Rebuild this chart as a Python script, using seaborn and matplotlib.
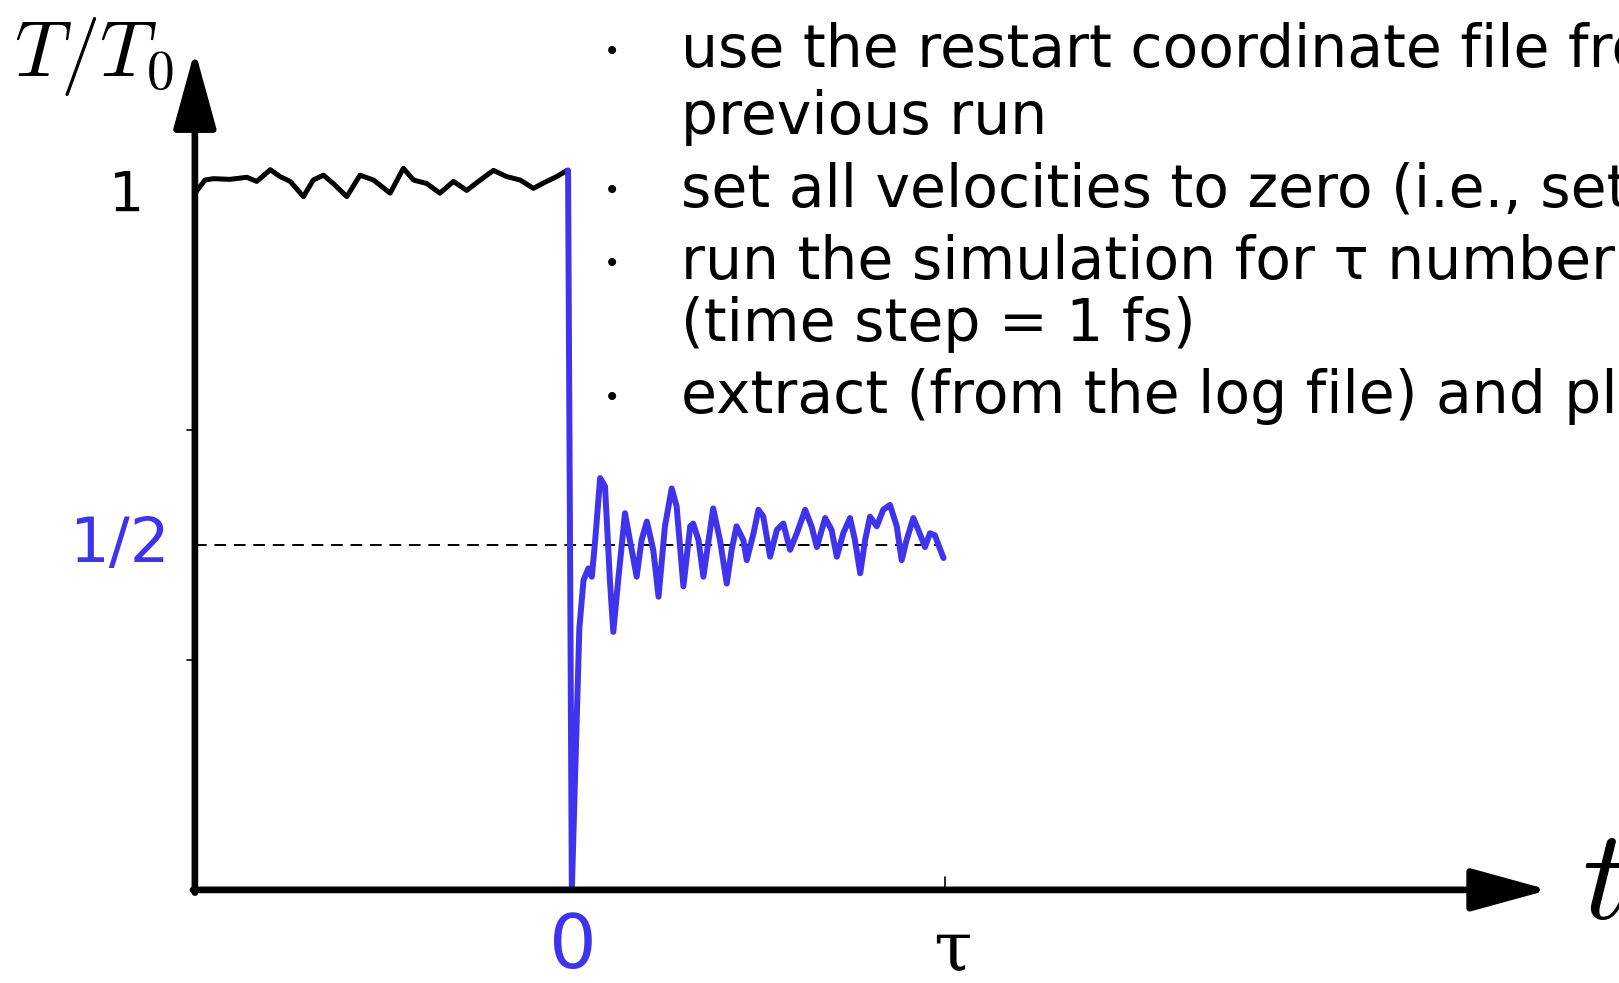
import numpy as np
import pandas as pd
import matplotlib.pyplot as plt
import seaborn as sns

# black trace: T/T0 before the velocity reset (t < 0)
black_t = [-0.99, -0.963, -0.941, -0.897, -0.852, -0.826, -0.790, -0.764, -0.737, -0.702,
           -0.676, -0.649, -0.623, -0.587, -0.552, -0.516, -0.472, -0.437, -0.410, -0.375,
           -0.340, -0.304, -0.269, -0.233, -0.198, -0.163, -0.127, -0.092, -0.057, -0.030, -0.003]
black_T = [1.010, 1.029, 1.031, 1.030, 1.033, 1.027, 1.044, 1.034, 1.027, 1.005,
           1.029, 1.036, 1.024, 1.005, 1.036, 1.029, 1.010, 1.046, 1.029, 1.024,
           1.010, 1.027, 1.014, 1.029, 1.043, 1.034, 1.029, 1.017, 1.027, 1.034, 1.043]

# blue trace: after all velocities set to zero (0 <= t <= tau)
blue_t = [0.0, 0.010, 0.030, 0.041, 0.054, 0.063, 0.072, 0.085, 0.098, 0.111, 0.120, 0.133,
          0.151, 0.164, 0.182, 0.195, 0.209, 0.226, 0.240, 0.257, 0.275, 0.288, 0.306,
          0.324, 0.332, 0.346, 0.359, 0.385, 0.403, 0.421, 0.434, 0.447, 0.465, 0.474,
          0.492, 0.505, 0.518, 0.536, 0.554, 0.571, 0.589, 0.607, 0.629, 0.646, 0.660,
          0.682, 0.699, 0.713, 0.730, 0.748, 0.761, 0.775, 0.788, 0.801, 0.819, 0.836,
          0.854, 0.872, 0.885, 0.898, 0.916, 0.929, 0.947, 0.960, 0.973, 0.996]
blue_T = [1.043, 0.0, 0.380, 0.449, 0.466, 0.454, 0.507, 0.597, 0.585, 0.449, 0.374, 0.449,
          0.546, 0.507, 0.454, 0.507, 0.534, 0.493, 0.425, 0.527, 0.582, 0.556, 0.440,
          0.527, 0.531, 0.507, 0.454, 0.553, 0.507, 0.444, 0.493, 0.527, 0.507, 0.478,
          0.517, 0.551, 0.541, 0.483, 0.522, 0.531, 0.493, 0.517, 0.551, 0.527, 0.497,
          0.539, 0.522, 0.483, 0.517, 0.539, 0.507, 0.459, 0.507, 0.541, 0.527, 0.551,
          0.558, 0.527, 0.478, 0.507, 0.539, 0.522, 0.497, 0.517, 0.514, 0.481]

y_ticks = [1/3, 2/3]
bullets = [
    ("use the restart coordinate file from the", True),
    ("previous run", False),
    ("set all velocities to zero (i.e., set T = 0)", True),
    ("run the simulation for \u03c4 number of steps", True),
    ("(time step = 1 fs)", False),
    ("extract (from the log file) and plot T", True),
]

sns.set_theme(style="white")
plt.rcParams["font.family"] = ["DejaVu Sans"]
plt.rcParams["mathtext.fontset"] = "cm"

blue = "#3f33ee"

fig = plt.figure(figsize=(16.19, 9.83), dpi=100)
ax = fig.add_axes([0, 0, 1, 1])
ax.set_xlim(-1.507, 2.788)
ax.set_ylim(-0.135, 1.290)
ax.axis("off")

df_b = pd.DataFrame({"t": black_t, "T": black_T})
df_u = pd.DataFrame({"t": blue_t, "T": blue_T})
sns.lineplot(data=df_b, x="t", y="T", sort=False, estimator=None, color="black", lw=3.6, ax=ax,
             solid_joinstyle="round", solid_capstyle="round")
sns.lineplot(data=df_u, x="t", y="T", sort=False, estimator=None, color=blue, lw=4.3, ax=ax,
             solid_joinstyle="round", solid_capstyle="round")

# dashed 1/2 level
ax.plot([-0.99, 0.99], [0.5, 0.5], color="black", lw=1.4, ls=(0, (6, 4)), zorder=1)

# axes with arrows
arrow = dict(arrowstyle="-|>,head_length=1.2,head_width=0.33", lw=4.8,
             color="black", mutation_scale=40, shrinkA=0, shrinkB=0)
ax.annotate("", xy=(-0.99, 1.217), xytext=(-0.99, -0.004), arrowprops=arrow)
ax.annotate("", xy=(2.602, 0.0), xytext=(-0.995, 0.0), arrowprops=arrow)
for yt in y_ticks:
    ax.plot([-1.01, -0.99], [yt, yt], color="black", lw=1.2)
ax.plot([1.0, 1.0], [0.0, 0.018], color="black", lw=1.2)

# labels
ax.text(-1.172, 1.006, "1", fontsize=40, ha="center", va="center", color="black")
ax.text(-1.19, 0.5, "1/2", fontsize=45, ha="center", va="center", color=blue)
ax.text(0.013, -0.084, "0", fontsize=54, ha="center", va="center", color=blue)
ax.text(1.02, -0.088, "\u03c4", fontsize=50, ha="center", va="center", color="black",
        family="DejaVu Serif")
ax.text(-1.47, 1.18, r"$T/T_0$", fontsize=57, ha="left", va="baseline", color="black")
ax.text(2.69, -0.042, r"$t$", fontsize=92, ha="left", va="baseline", color="black")

# bullet notes
y_lines = [1.193, 1.096, 0.991, 0.886, 0.796, 0.691]
for (txt, has_bullet), yb in zip(bullets, y_lines):
    if has_bullet:
        ax.text(0.117, yb + 0.022, "\u2022", fontsize=20, ha="center", va="center", color="black")
    ax.text(0.300, yb, txt, fontsize=42, ha="left", va="baseline", color="black")

fig.savefig("out.png", dpi=100, facecolor="white")
